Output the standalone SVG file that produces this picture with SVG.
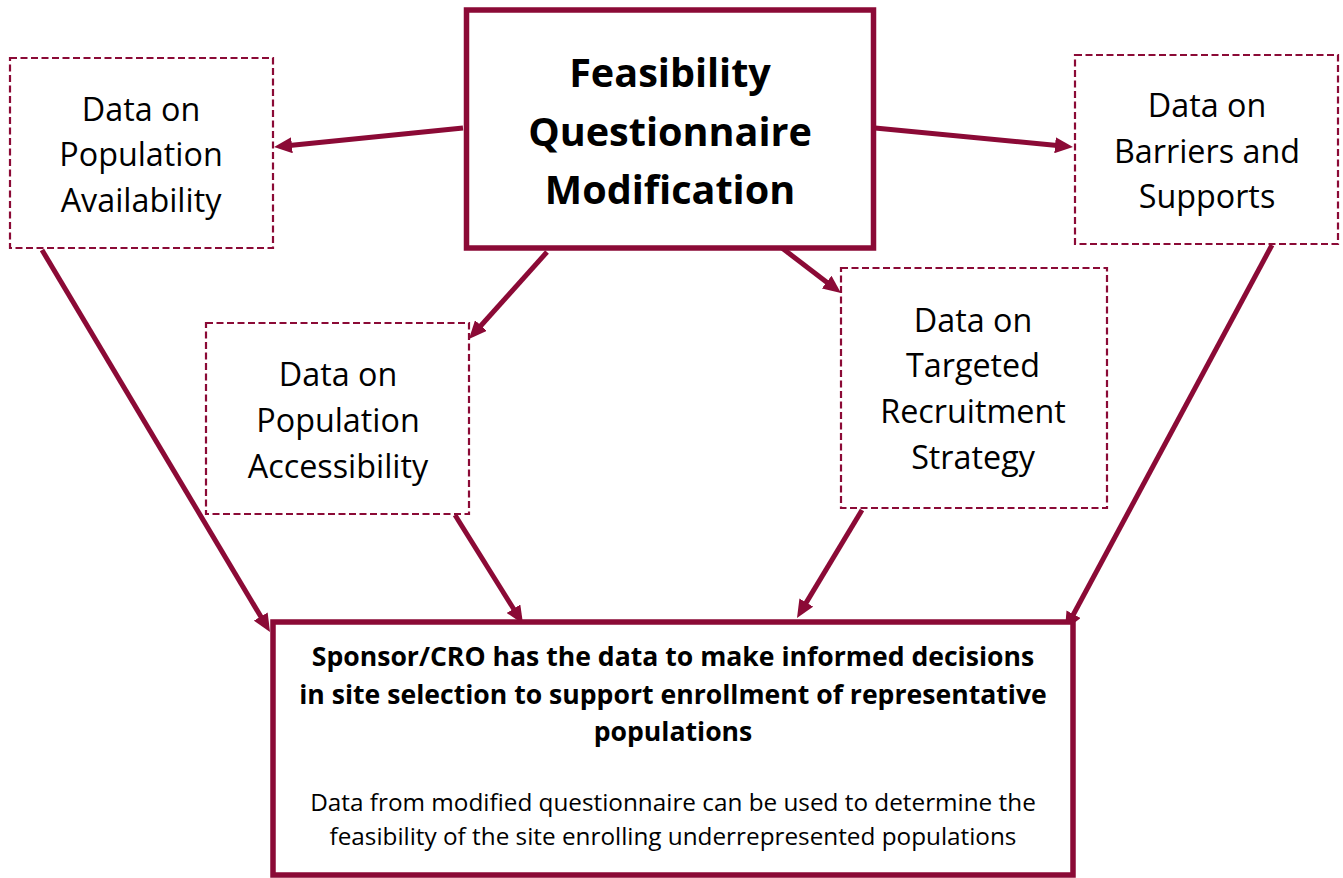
<svg xmlns="http://www.w3.org/2000/svg" width="1343" height="878" viewBox="0 0 1343 878">
<style>
.solid{fill:#fff;stroke:#8B0A36;stroke-width:5.5}
.dash{fill:#fff;stroke:#8B0A36;stroke-width:2.2;stroke-dasharray:7 3.5}
.conn{stroke:#8B0A36;stroke-width:5;fill:none;marker-end:url(#ah)}
.lbl{font-family:"Open Sans","Noto Sans",sans-serif;font-size:32.3px;fill:#000;text-anchor:middle}
.title{font-family:"Open Sans","Noto Sans",sans-serif;font-size:39.6px;font-weight:bold;fill:#000;text-anchor:middle}
.bold{font-family:"Open Sans","Noto Sans",sans-serif;font-size:26.6px;font-weight:bold;fill:#000;text-anchor:middle}
.reg{font-family:"Open Sans","Noto Sans",sans-serif;font-size:24.3px;fill:#000;text-anchor:middle}
</style>
<defs>
<marker id="ah" markerUnits="userSpaceOnUse" markerWidth="18" markerHeight="16" refX="10" refY="8" orient="auto">
<path d="M0,0 L18,8 L0,16 Z" fill="#8B0A36"/>
</marker>
</defs>
<rect width="1343" height="878" fill="#fff"/>
<g id="connectors">
<line class="conn" x1="463" y1="128" x2="282" y2="146.2"/>
<line class="conn" x1="875" y1="128" x2="1065" y2="146.2"/>
<line class="conn" x1="547" y1="252" x2="474.3" y2="333"/>
<line class="conn" x1="782" y1="248" x2="834.6" y2="288.2"/>
<line class="conn" x1="42" y1="250" x2="265.9" y2="625.1"/>
<line class="conn" x1="455" y1="515" x2="518.8" y2="617.2"/>
<line class="conn" x1="862" y1="510" x2="801.1" y2="611.1"/>
<line class="conn" x1="1272" y1="245" x2="1068.8" y2="623"/>
</g>
<g id="node-feasibility">
<rect class="solid" x="466.5" y="10" width="407" height="238"/>
<text class="title" x="670" y="87">Feasibility</text>
<text class="title" x="670" y="146">Questionnaire</text>
<text class="title" x="670" y="204">Modification</text>
</g>
<g id="node-availability">
<rect class="dash" x="10" y="58" width="263" height="190"/>
<text class="lbl" x="141" y="121">Data on</text>
<text class="lbl" x="141" y="166">Population</text>
<text class="lbl" x="141" y="212">Availability</text>
</g>
<g id="node-barriers">
<rect class="dash" x="1075" y="55" width="263" height="189"/>
<text class="lbl" x="1207" y="117">Data on</text>
<text class="lbl" x="1207" y="163">Barriers and</text>
<text class="lbl" x="1207" y="208">Supports</text>
</g>
<g id="node-accessibility">
<rect class="dash" x="206" y="323" width="263" height="191"/>
<text class="lbl" x="338" y="386">Data on</text>
<text class="lbl" x="338" y="432">Population</text>
<text class="lbl" x="338" y="478">Accessibility</text>
</g>
<g id="node-recruitment">
<rect class="dash" x="841" y="268" width="266" height="240"/>
<text class="lbl" x="973" y="332">Data on</text>
<text class="lbl" x="973" y="377">Targeted</text>
<text class="lbl" x="973" y="423">Recruitment</text>
<text class="lbl" x="973" y="469">Strategy</text>
</g>
<g id="node-sponsor">
<rect class="solid" x="273" y="622" width="800" height="253"/>
<text class="bold" x="673" y="666">Sponsor/CRO has the data to make informed decisions</text>
<text class="bold" x="673" y="704">in site selection to support enrollment of representative</text>
<text class="bold" x="673" y="741">populations</text>
<text class="reg" x="673" y="811">Data from modified questionnaire can be used to determine the</text>
<text class="reg" x="673" y="845">feasibility of the site enrolling underrepresented populations</text>
</g>
</svg>
